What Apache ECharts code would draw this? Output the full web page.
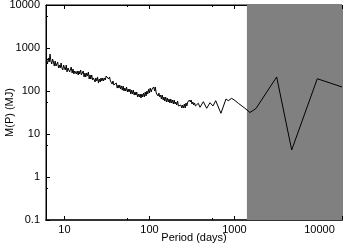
<!DOCTYPE html>
<html><head><meta charset="utf-8">
<script src="https://cdn.jsdelivr.net/npm/echarts@6/dist/echarts.min.js"></script>
<style>html,body{margin:0;padding:0;background:#fff}#c{width:344px;height:246px}</style>
</head><body><div id="c"></div>
<script>
// Period (days) sample positions
const periodDays = [
  6.17, 6.31, 6.46, 6.61, 6.76, 6.92, 7.08, 7.24, 7.41, 7.59,
  7.76, 7.94, 8.13, 8.32, 8.51, 8.71, 8.91, 9.12, 9.33, 9.55,
  9.77, 10.0, 10.2, 10.5, 10.7, 11.0, 11.2, 11.5, 11.7, 12.0,
  12.3, 12.6, 12.9, 13.2, 13.5, 13.8, 14.1, 14.5, 14.8, 15.1,
  15.5, 15.8, 16.2, 16.6, 17.0, 17.4, 17.8, 18.2, 18.6, 19.1,
  19.5, 20.0, 20.4, 20.9, 21.4, 21.9, 22.4, 22.9, 23.4, 24.0,
  24.5, 25.1, 25.7, 26.3, 26.9, 27.5, 28.2, 28.8, 29.5, 30.2,
  30.9, 31.6, 32.4, 33.1, 33.9, 34.7, 35.5, 36.3, 37.2, 38.0,
  38.9, 39.8, 40.7, 41.7, 42.7, 43.7, 44.7, 45.7, 46.8, 47.9,
  49.0, 50.1, 51.3, 52.5, 53.7, 55.0, 56.2, 57.5, 58.9, 60.3,
  61.7, 63.1, 64.6, 66.1, 67.6, 69.2, 70.8, 72.4, 74.1, 75.9,
  77.6, 79.4, 81.3, 83.2, 85.1, 87.1, 89.1, 91.2, 93.3, 95.5,
  97.7, 100, 102, 105, 107, 110, 112, 115, 117, 120,
  123, 126, 129, 132, 135, 138, 141, 145, 148, 151,
  155, 158, 162, 166, 170, 174, 178, 182, 186, 191,
  195, 200, 204, 209, 214, 219, 224, 229, 234, 240,
  245, 251, 257, 263, 269, 275, 282, 288, 295, 302,
  309, 316, 324, 331, 339, 347, 355,
  375, 393, 430, 471, 515, 558, 601, 693, 794, 845,
  927, 1014, 1109, 1225, 1329, 1522, 1790, 3134, 4710, 9420, 18400
];
// Mass limit M(P) in Jupiter masses
const massMJ = [
  498, 425, 585, 472, 725, 498, 425, 555, 472, 381,
  498, 381, 402, 472, 343, 402, 343, 448, 343, 308,
  402, 343, 308, 402, 277, 343, 361, 277, 292, 361,
  262, 325, 248, 292, 325, 248, 292, 236, 292, 248,
  308, 236, 248, 292, 212, 262, 212, 262, 223, 277,
  190, 236, 190, 236, 180, 201, 223, 162, 201, 171,
  212, 153, 190, 162, 201, 171, 201, 171, 201, 180,
  223, 201, 236, 190, 212, 171, 190, 145, 171, 138,
  153, 131, 153, 117, 138, 117, 138, 111, 131, 105,
  131, 100, 117, 100, 124, 94.8, 111, 94.8, 111, 85.1,
  105, 85.1, 105, 80.7, 94.8, 80.7, 94.8, 72.5, 85.1, 72.5,
  85.1, 68.7, 85.1, 72.5, 89.8, 72.5, 94.8, 76.5, 100, 85.1,
  111, 89.8, 117, 94.8, 111, 100, 124, 100, 124, 89.8,
  94.8, 76.5, 89.8, 72.5, 80.7, 65.2, 80.7, 61.8, 72.5, 58.5,
  72.5, 55.5, 68.7, 55.5, 65.2, 52.6, 65.2, 52.6, 61.8, 49.8,
  61.8, 49.8, 55.5, 47.2, 58.5, 44.8, 49.8, 42.5, 47.2, 40.2,
  47.2, 40.2, 49.8, 40.2, 52.6, 44.8, 55.5, 52.6, 61.8, 55.5,
  61.8, 49.8, 55.5, 47.2, 52.6, 44.8, 47.2,
  51.8, 41.8, 56.4, 39.6, 53.5, 44.8, 59.5, 30.3, 65.2, 59.5,
  67.6, 60.1, 51.8, 44.8, 39.6, 31.6, 39.2, 212, 4.25, 193, 124
];
const xTickLabels = [10, 100, 1000, 10000];
const yTickLabels = [0.1, 1, 10, 100, 1000, 10000];
const shadeStart = 1400;
const xMin = 6.06, xMax = 18400;
const yMin = 0.1, yMax = 10000;

const font = "'Liberation Sans', Arial, Helvetica, sans-serif";
const near = (v, list) => list.some(t => Math.abs(v - t) / t < 1e-6);
const chart = echarts.init(document.getElementById('c'), null, {renderer: 'canvas'});
const pts = periodDays.map((p, i) => [p, massMJ[i]]);

chart.setOption({
  animation: false,
  backgroundColor: '#fff',
  textStyle: {fontFamily: font},
  grid: {left: 46, right: 2, top: 5, bottom: 26, containLabel: false, outerBoundsMode: 'none',
    show: true, borderColor: '#000', borderWidth: 1, backgroundColor: 'transparent'},
  xAxis: [{
    type: 'log', min: xMin, max: xMax, position: 'bottom',
    axisLine: {show: true, lineStyle: {color: '#333', width: 2}},
    axisTick: {show: true, inside: true, length: 4, lineStyle: {color: '#000'}},
    minorTick: {show: true, splitNumber: 2, length: 2, lineStyle: {color: '#000'}},
    splitLine: {show: false},
    axisLabel: {margin: 4, fontSize: 11, color: '#000', fontFamily: font,
      showMinLabel: false, showMaxLabel: false,
      formatter: v => near(v, xTickLabels) ? String(v) : ''},
    name: 'Period (days)', nameLocation: 'middle', nameGap: 12, nameMoveOverlap: false,
    nameTextStyle: {fontSize: 11, color: '#000', fontFamily: font}
  }, {
    type: 'log', min: xMin, max: xMax, position: 'top',
    axisLine: {show: true, lineStyle: {color: '#000', width: 1}},
    axisTick: {show: true, inside: true, length: 4, lineStyle: {color: '#000'}},
    minorTick: {show: true, splitNumber: 2, length: 2, lineStyle: {color: '#000'}},
    splitLine: {show: false}, axisLabel: {show: false}
  }],
  yAxis: [{
    type: 'log', min: yMin, max: yMax,
    axisLine: {show: true, lineStyle: {color: '#000', width: 1}},
    axisTick: {show: true, inside: true, length: 4, lineStyle: {color: '#000'}},
    minorTick: {show: true, splitNumber: 2, length: 2, lineStyle: {color: '#000'}},
    splitLine: {show: false},
    axisLabel: {margin: 6, fontSize: 11, color: '#000', fontFamily: font,
      formatter: v => near(v, yTickLabels) ? String(v) : ''},
    name: 'M(P) (MJ)', nameLocation: 'middle', nameGap: 31, nameRotate: 90, nameMoveOverlap: false,
    nameTextStyle: {fontSize: 11, color: '#000', fontFamily: font}
  }],
  series: [{
    type: 'line', data: pts, xAxisIndex: 0, yAxisIndex: 0,
    showSymbol: false, symbol: 'none',
    lineStyle: {color: '#000', width: 1},
    markArea: {silent: true, itemStyle: {color: '#808080', opacity: 1},
      data: [[{xAxis: shadeStart}, {xAxis: xMax}]]}
  }]
});
</script>
</body></html>
